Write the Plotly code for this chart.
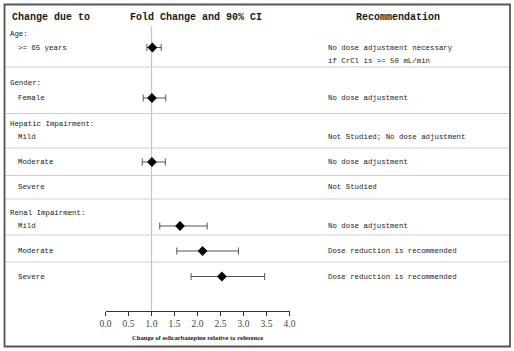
import plotly.graph_objects as go

# ---------------- data ----------------
group_labels = ["Age:", "Gender:", "Hepatic Impairment:", "Renal Impairment:"]
sub_labels = [">= 65 years", "Female", "Mild", "Moderate", "Severe", "Mild", "Moderate", "Severe"]
fold_change = [1.02, 1.01, None, 1.01, None, 1.62, 2.11, 2.53]
ci_low = [0.90, 0.82, None, 0.80, None, 1.18, 1.55, 1.86]
ci_high = [1.21, 1.31, None, 1.30, None, 2.21, 2.89, 3.46]
recommendations = [
    "No dose adjustment necessary<br>if CrCl is >= 50 mL/min",
    "No dose adjustment",
    "Not Studied; No dose adjustment",
    "No dose adjustment",
    "Not Studied",
    "No dose adjustment",
    "Dose reduction is recommended",
    "Dose reduction is recommended",
]
tick_vals = [0.0, 0.5, 1.0, 1.5, 2.0, 2.5, 3.0, 3.5, 4.0]
tick_text = ["0.0", "0.5", "1.0", "1.5", "2.0", "2.5", "3.0", "3.5", "4.0"]
headers = ["Change due to", "Fold Change and 90% CI", "Recommendation"]
x_title = "Change of eslicarbazepine relative to reference"
ref_value = 1.0

# ---------------- layout constants (pixels) ----------------
W, H = 514, 351
AX_Y = 311  # pixel y of the x axis line (bottom of plot area)
group_y = [34, 83, 124, 213]
sub_y = [47.5, 98, 137, 162, 187, 226, 251, 276.5]
sep_y = [67, 113.5, 148, 175.5, 199, 235, 262]

def px(x):
    return x / W

def py(y):
    return (AX_Y - y) / AX_Y

mono = "Liberation Mono, Courier New, monospace"
serif = "Liberation Serif, Times New Roman, serif"
txt_col = "#1a1a1a"

fig = go.Figure()

# markers with CI
xs, ys, ep, em = [], [], [], []
for f, lo, hi, y in zip(fold_change, ci_low, ci_high, sub_y):
    if f is None:
        continue
    xs.append(f)
    ys.append(y)
    ep.append(hi - f)
    em.append(f - lo)

fig.add_trace(go.Scatter(
    x=xs, y=ys, mode="markers",
    marker=dict(symbol="diamond", size=7.5, color="black"),
    error_x=dict(type="data", array=ep, arrayminus=em, color="#555555",
                 thickness=1, width=3.5),
    showlegend=False, hoverinfo="skip", cliponaxis=False,
))

shapes = []
# reference vertical line
shapes.append(dict(type="line", xref="x", yref="y", x0=ref_value, x1=ref_value,
                   y0=26, y1=AX_Y, line=dict(color="#c4c4c4", width=1.2), layer="below"))
# separators
for y in sep_y:
    shapes.append(dict(type="line", xref="paper", yref="paper", x0=px(4), x1=px(510),
                       y0=py(y), y1=py(y), line=dict(color="#cfcfcf", width=1.2), layer="below"))
# outer frame
shapes.append(dict(type="rect", xref="paper", yref="paper", x0=px(4.5), x1=px(510),
                   y0=py(346.5), y1=py(4.5), line=dict(color="#555555", width=1.8)))

ann = []
def text(x, y, s, size, font=mono, anchor="left", bold=False, color=txt_col):
    ann.append(dict(x=px(x), y=py(y), xref="paper", yref="paper", text=(f"<b>{s}</b>" if bold else s),
                    showarrow=False, xanchor=anchor, yanchor="middle",
                    font=dict(family=font, size=size, color=color), align="left"))

# headers
text(10, 18, headers[0], 10, bold=True)
text(196, 18, headers[1], 10, anchor="center", bold=True)
text(398, 18, headers[2], 10, anchor="center", bold=True)

for lab, y in zip(group_labels, group_y):
    text(8, y, lab, 7.4)
for lab, y in zip(sub_labels, sub_y):
    text(15.5, y, lab, 7.4)
for i, (rec, y) in enumerate(zip(recommendations, sub_y)):
    if "<br>" in rec:
        lines = rec.split("<br>")
        text(326, y, lines[0], 7.4)
        text(326, y + 13.5, lines[1], 7.4)
    else:
        text(326, y, rec, 7.4)

# axis title
text(197.5, 337, x_title, 6.6, font=serif, anchor="center", bold=True)

fig.update_layout(
    width=W, height=H, autosize=False,
    margin=dict(l=0, r=0, t=0, b=H - AX_Y, pad=0, autoexpand=False),
    paper_bgcolor="white", plot_bgcolor="white",
    shapes=shapes, annotations=ann,
    xaxis=dict(domain=[105.5 / W, 289.5 / W], range=[0, 4], tickvals=tick_vals, ticktext=tick_text,
               showgrid=False, zeroline=False, showline=True, linecolor="#333333", linewidth=1,
               ticks="outside", ticklen=4, tickcolor="#333333", tickwidth=1, automargin=False,
               tickfont=dict(family=serif, size=9.5, color="#444444"), fixedrange=True),
    yaxis=dict(range=[AX_Y, 0], visible=False, fixedrange=True, automargin=False),
)

fig.write_html("out.html")
